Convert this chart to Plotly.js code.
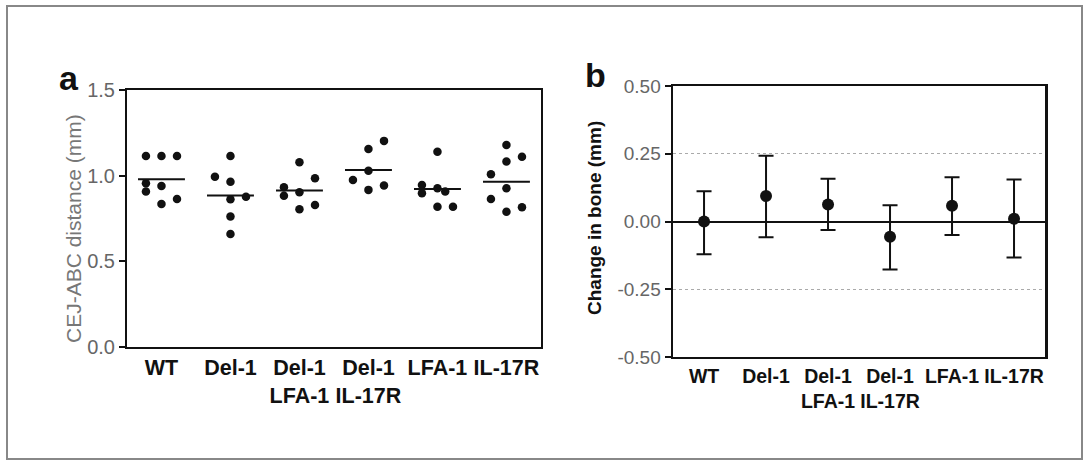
<!DOCTYPE html>
<html>
<head>
<meta charset="utf-8">
<script src="https://cdn.plot.ly/plotly-3.0.1.min.js"></script>
<style>html,body{margin:0;padding:0;background:#fff;}#chart{width:1088px;height:461px;}</style>
</head>
<body>
<div id="chart"></div>
<script>
// ---- categories / tick labels ----
const categories = ['WT', 'Del-1', 'Del-1<br>LFA-1', 'Del-1<br>IL-17R', 'LFA-1', 'IL-17R'];
const yTicksA = [0, 0.5, 1.0, 1.5];
const yTickTextA = ['0.0', '0.5', '1.0', '1.5'];
const yTicksB = [-0.5, -0.25, 0, 0.25, 0.5];
const yTickTextB = ['-0.50', '-0.25', '0.00', '0.25', '0.50'];

// ---- panel a: individual CEJ-ABC distances (mm) ----
const wtVals     = [1.115, 1.115, 1.115, 0.955, 0.907, 0.940, 0.835, 0.864];
const wtCols     = [-1, 0, 1, -1, -1, 0, 0, 1];
const del1Vals   = [0.994, 1.115, 0.965, 0.862, 0.877, 0.761, 0.660];
const del1Cols   = [-1, 0, 0, 0, 1, 0, 0];
const delLfaVals = [1.078, 0.932, 0.883, 0.903, 0.985, 0.804, 0.829];
const delLfaCols = [0, -1, -1, 0, 1, 0, 1];
const delIlVals  = [1.156, 1.203, 1.029, 0.975, 0.917, 0.942];
const delIlCols  = [0, 1, 0, -1, 0, 1];
const lfaVals    = [1.140, 0.946, 0.897, 0.926, 0.907, 0.819, 0.819];
const lfaCols    = [0, -1, -1, 0, 0.5, 0, 1];
const ilVals     = [1.179, 1.082, 1.111, 1.008, 0.926, 0.864, 0.790, 0.815];
const ilCols     = [0, 0, 1, -1, 0, -1, 0, 1];
const groupMeansA = [0.979, 0.884, 0.913, 1.033, 0.922, 0.965];

// ---- panel b: change in bone (mm), mean with interval ----
const changeMean  = [0.000, 0.094, 0.063, -0.056, 0.058, 0.010];
const changeUpper = [0.112, 0.243, 0.158, 0.060, 0.163, 0.155];
const changeLower = [-0.121, -0.058, -0.031, -0.177, -0.050, -0.133];

const groupVals = [wtVals, del1Vals, delLfaVals, delIlVals, lfaVals, ilVals];
const groupCols = [wtCols, del1Cols, delLfaCols, delIlCols, lfaCols, ilCols];

const FONT = '"Liberation Sans Narrow", "Arial Narrow", "Liberation Sans", Arial, sans-serif';
const COL_STEP = 0.225;
const MEAN_HALF = 0.34;

const traces = [];
// dots
const dx = [], dy = [];
groupVals.forEach((vals, i) => {
  vals.forEach((v, j) => { dx.push(i + groupCols[i][j] * COL_STEP); dy.push(v); });
});
traces.push({
  type: 'scatter', mode: 'markers', x: dx, y: dy, xaxis: 'x', yaxis: 'y',
  marker: {color: '#111', size: 8.5}, hoverinfo: 'y', showlegend: false
});
// mean lines
const mx = [], my = [];
groupMeansA.forEach((m, i) => { mx.push(i - MEAN_HALF, i + MEAN_HALF, null); my.push(m, m, null); });
traces.push({
  type: 'scatter', mode: 'lines', x: mx, y: my, xaxis: 'x', yaxis: 'y',
  line: {color: '#111', width: 2}, hoverinfo: 'skip', showlegend: false
});
// panel b
traces.push({
  type: 'scatter', mode: 'markers', x: categories.map((c, i) => i), y: changeMean,
  xaxis: 'x2', yaxis: 'y2',
  marker: {color: '#111', size: 12},
  error_y: {
    type: 'data', symmetric: false,
    array: changeUpper.map((u, i) => u - changeMean[i]),
    arrayminus: changeMean.map((m, i) => m - changeLower[i]),
    color: '#111', thickness: 2, width: 7.5
  },
  showlegend: false
});

const axisX = {
  range: [-0.5, 5.5], tickvals: [0, 1, 2, 3, 4, 5], ticktext: categories, tickangle: 0,
  showgrid: false, zeroline: false, showline: true, linecolor: '#111', linewidth: 2,
  mirror: true, ticks: '', tickfont: {family: FONT, size: 21.5, color: '#111', weight: 'bold'},
  fixedrange: true
};

const layout = {
  width: 1088, height: 461,
  margin: {l: 0, r: 0, t: 0, b: 0},
  paper_bgcolor: '#ffffff', plot_bgcolor: '#ffffff',
  font: {family: FONT, color: '#111'},
  showlegend: false,
  xaxis: Object.assign({}, axisX, {domain: [0.1167, 0.4972], anchor: 'y'}),
  yaxis: {
    domain: [0.2473, 0.8048], anchor: 'x', range: [0, 1.5],
    tickvals: yTicksA, ticktext: yTickTextA,
    showgrid: false, zeroline: false, showline: true, linecolor: '#111', linewidth: 2, mirror: true,
    ticks: 'outside', ticklen: 6, tickwidth: 2, tickcolor: '#111',
    tickfont: {family: FONT, size: 20, color: '#666'}
  },
  xaxis2: Object.assign({}, axisX, {domain: [0.6186, 0.9605], anchor: 'y2', linewidth: 2.5,
    tickfont: {family: FONT, size: 19.5, color: '#111', weight: 'bold'}}),
  yaxis2: {
    domain: [0.2256, 0.8134], anchor: 'x2', range: [-0.5, 0.5],
    tickvals: yTicksB, ticktext: yTickTextB,
    showgrid: true, gridcolor: '#aaa', griddash: 'dot', gridwidth: 1,
    zeroline: true, zerolinecolor: '#111', zerolinewidth: 2,
    showline: true, linecolor: '#111', linewidth: 2.5, mirror: true,
    ticks: 'outside', ticklen: 6, tickwidth: 2, tickcolor: '#111',
    tickfont: {family: FONT, size: 19, color: '#666'}
  },
  annotations: [
    {text: '<b>a</b>', xref: 'paper', yref: 'paper', x: 69 / 1088, y: 1 - 78 / 461, xanchor: 'center', yanchor: 'middle',
     showarrow: false, font: {family: '"Liberation Sans", Arial, sans-serif', size: 34, color: '#111'}},
    {text: '<b>b</b>', xref: 'paper', yref: 'paper', x: 595 / 1088, y: 1 - 75 / 461, xanchor: 'center', yanchor: 'middle',
     showarrow: false, font: {family: '"Liberation Sans", Arial, sans-serif', size: 34, color: '#111'}},
    {text: 'CEJ-ABC distance (mm)', xref: 'paper', yref: 'paper', x: 73 / 1088, y: 1 - 229 / 461,
     xanchor: 'center', yanchor: 'middle', textangle: -90, showarrow: false,
     font: {family: FONT, size: 21, color: '#777'}},
    {text: '<b>Change in bone (mm)</b>', xref: 'paper', yref: 'paper', x: 594 / 1088, y: 1 - 218 / 461,
     xanchor: 'center', yanchor: 'middle', textangle: -90, showarrow: false,
     font: {family: FONT, size: 19, color: '#111'}}
  ],
  shapes: [
    {type: 'rect', xref: 'paper', yref: 'paper', x0: 7 / 1088, x1: 1082 / 1088, y0: 1 - 459 / 461, y1: 1 - 6 / 461,
     line: {color: '#888', width: 2}, fillcolor: 'rgba(0,0,0,0)', layer: 'below'}
  ]
};

Plotly.newPlot('chart', traces, layout, {staticPlot: true, displayModeBar: false});
</script>
</body>
</html>
